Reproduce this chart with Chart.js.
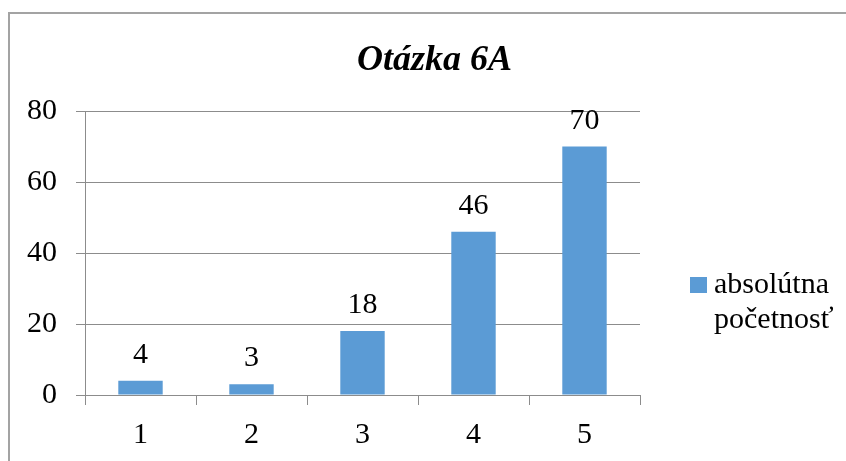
<!DOCTYPE html>
<html>
<head>
<meta charset="utf-8">
<script src="https://cdn.jsdelivr.net/npm/chart.js@4"></script>
<style>
  html, body { margin: 0; padding: 0; background: #fff; overflow: hidden; }
  #wrap { position: relative; width: 846px; height: 461px; overflow: hidden; }
  #frame { position: absolute; left: 8px; top: 12px; right: -10px; bottom: -10px; border: 2px solid #a3a3a3; }
  #chartBox { position: absolute; left: 0; top: 0; width: 846px; height: 461px; }
  #title { position: absolute; left: 0; width: 869px; top: 38px; text-align: center;
    font: italic bold 36px "Liberation Serif", "Times New Roman", serif; line-height: 40px; color: #000; }
  #legend { position: absolute; left: 690px; top: 265px; }
  #legend .box { position: absolute; left: 0; top: 12px; width: 17px; height: 16px; background: #5b9bd5; }
  #legend .txt { position: absolute; left: 24px; top: 0; white-space: nowrap;
    font: 30px "Liberation Serif", "Times New Roman", serif; line-height: 35px; color: #000; }
</style>
</head>
<body>
<div id="wrap">
  <div id="frame"></div>
  <div id="chartBox"><canvas id="myChart" width="846" height="461"></canvas></div>
  <div id="title">Otázka 6A</div>
  <div id="legend"><div class="box"></div><div class="txt">absolútna<br>početnosť</div></div>
</div>
<script>
/* data */
const categories = ['1', '2', '3', '4', '5'];
const counts = [4, 3, 18, 46, 70];
const yTicks = [0, 20, 40, 60, 80];
const seriesName = 'absolútna početnosť';

const serif = '"Liberation Serif", "Times New Roman", serif';

// value labels above bars
const valueLabels = {
  id: 'valueLabels',
  afterDatasetsDraw(chart) {
    const ctx = chart.ctx;
    const meta = chart.getDatasetMeta(0);
    ctx.save();
    ctx.font = '30px ' + serif;
    ctx.fillStyle = '#000';
    ctx.textAlign = 'center';
    ctx.textBaseline = 'alphabetic';
    meta.data.forEach(function(bar, i) {
      ctx.fillText(String(counts[i]), bar.x, bar.y - 18);
    });
    ctx.restore();
  }
};

const ctx = document.getElementById('myChart');
new Chart(ctx, {
  type: 'bar',
  data: {
    labels: categories,
    datasets: [{
      label: seriesName,
      data: counts,
      backgroundColor: '#5b9bd5',
      borderWidth: 0,
      barPercentage: 0.4,
      categoryPercentage: 1
    }]
  },
  options: {
    responsive: false,
    animation: false,
    layout: { padding: { top: 111, right: 206, bottom: 0, left: 0 } },
    plugins: {
      legend: { display: false },
      title: { display: false },
      tooltip: { enabled: false }
    },
    scales: {
      x: {
        offset: true,
        grid: { offset: true, drawOnChartArea: false, drawTicks: true, tickLength: 10, color: '#8c8c8c' },
        border: { display: true, color: '#8c8c8c' },
        ticks: { color: '#000', font: { family: serif, size: 30 }, padding: 12 },
        afterFit(scale) { scale.height = 66; }
      },
      y: {
        min: 0,
        max: 80,
        afterBuildTicks(scale) { scale.ticks = yTicks.map(v => ({ value: v })); },
        grid: { color: '#8c8c8c', tickLength: 9 },
        border: { display: true, color: '#8c8c8c' },
        ticks: { color: '#000', font: { family: serif, size: 30 }, padding: 19 },
        afterFit(scale) { scale.width = 85; }
      }
    }
  },
  plugins: [valueLabels]
});
</script>
</body>
</html>
